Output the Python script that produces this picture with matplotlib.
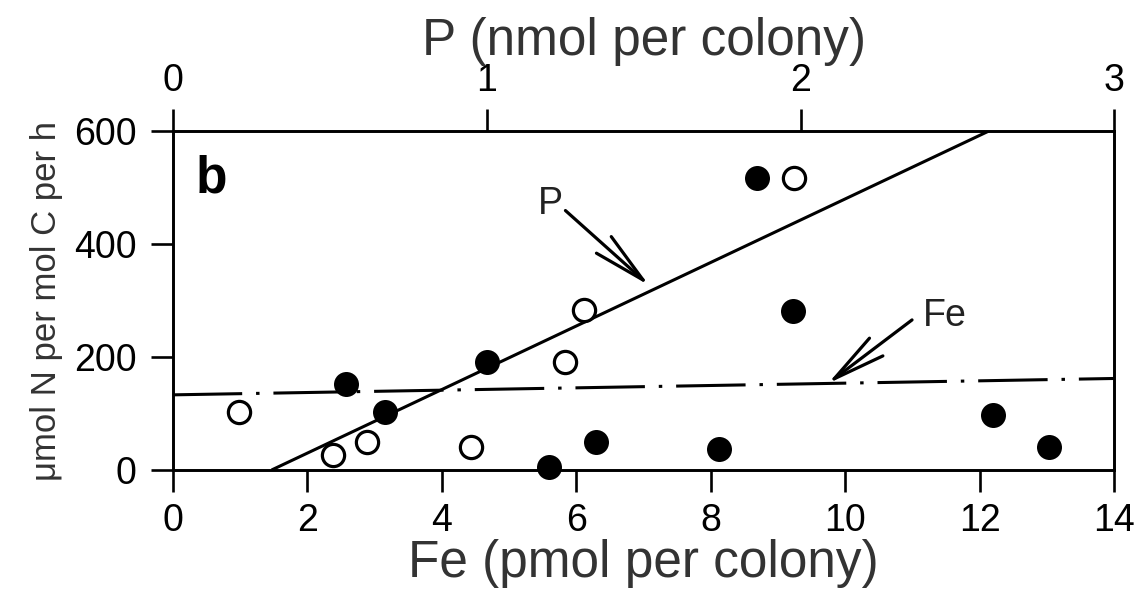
import matplotlib
matplotlib.use("Agg")
import matplotlib.pyplot as plt

plt.rcParams['font.family'] = ['Liberation Sans', 'DejaVu Sans']
plt.rcParams['lines.scale_dashes'] = False

# Fe content (pmol per colony) vs N2 fixation, filled symbols
fe_x = [2.58, 3.16, 4.67, 5.60, 6.29, 8.12, 8.69, 9.22, 12.19, 13.02]
fe_y = [152, 102, 191, 6, 50, 38, 517, 282, 97, 41]

# P content (nmol per colony) vs N2 fixation, open symbols
p_x = [0.21, 0.51, 0.62, 0.95, 1.25, 1.31, 1.98]
p_y = [102, 27, 49, 41, 191, 284, 517]

# regression lines
p_line_x = [0.315, 2.60]
p_line_y = [0, 600]
fe_line_x = [0, 14]
fe_line_y = [133, 162]

fig = plt.figure(figsize=(11.38, 5.95), dpi=100)
ax = fig.add_axes([0.1518, 0.2101, 0.8275, 0.5697])
ax2 = ax.twiny()

lw = 1.9
for a in (ax, ax2):
    for s in a.spines.values():
        s.set_linewidth(lw)
    a.tick_params(width=lw, length=16, labelsize=27, pad=8, direction='out')
ax.tick_params(axis='y', pad=10)
ax2.tick_params(pad=7)

ax.set_xlim(0, 14)
ax.set_ylim(0, 600)
ax.set_xticks(range(0, 15, 2))
ax.set_yticks([0, 200, 400, 600])
ax2.set_xlim(0, 3)
ax2.set_xticks([0, 1, 2, 3])

ax.set_xlabel('Fe (pmol per colony)', fontsize=37, labelpad=0, color='#333333')
ax2.set_xlabel('P (nmol per colony)', fontsize=37, labelpad=6, color='#333333')
ax.set_ylabel('μmol N per mol C per h', fontsize=25, labelpad=8, color='#333333')

ax.plot(fe_line_x, fe_line_y, color='black', lw=2.2,
        dashes=(50, 10, 2.5, 10), clip_on=False)
ax2.plot(p_line_x, p_line_y, color='black', lw=2.2, solid_capstyle='butt')

ax.plot(fe_x, fe_y, 'o', color='black', ms=18, mew=0, clip_on=False, zorder=5)
ax2.plot(p_x, p_y, 'o', mfc='white', mec='black', ms=16, mew=2.3,
         clip_on=False, zorder=5)

ax.text(0.024, 0.82, 'b', transform=ax.transAxes, fontsize=37,
        fontweight='bold')

arrow = dict(arrowstyle='->,head_length=1.9,head_width=0.4', lw=2.3,
             color='black', mutation_scale=20, shrinkA=0, shrinkB=0)
ax.annotate('P', xy=(7.08, 327), xytext=(5.61, 470), fontsize=27,
            ha='center', va='center', color='#222222',
            arrowprops=dict(arrow, relpos=(1.0, 0.4)))
ax.annotate('Fe', xy=(9.74, 153), xytext=(11.48, 272), fontsize=27,
            ha='center', va='center', color='#222222',
            arrowprops=dict(arrow, relpos=(-0.25, 0.4)))

fig.savefig('out.png', dpi=100)
